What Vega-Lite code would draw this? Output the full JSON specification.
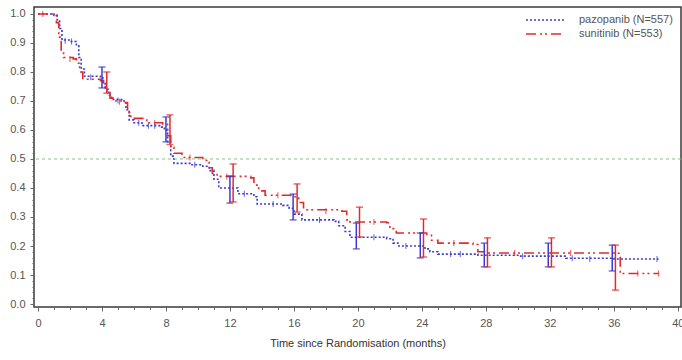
{
  "$schema": "https://vega.github.io/schema/vega-lite/v6.json",
  "width": 647,
  "height": 300,
  "autosize": "none",
  "padding": {"left": 34, "top": 7, "right": 1, "bottom": 53},
  "background": "white",
  "config": {
    "font": "Liberation Sans",
    "view": {"stroke": "#3a3a3a", "strokeWidth": 1.5},
    "axis": {"labelColor": "#555", "labelFontSize": 11, "titleColor": "#333", "titleFontSize": 11, "titleFontWeight": "normal", "tickColor": "#666", "domain": false, "grid": false, "tickSize": 4, "labelOverlap": false}
  },
  "datasets": {
    "curves": [
      {"series": "pazopanib (N=557)", "t": 0, "s": 1.0},
      {"series": "pazopanib (N=557)", "t": 1.0, "s": 0.995},
      {"series": "pazopanib (N=557)", "t": 1.2, "s": 0.98},
      {"series": "pazopanib (N=557)", "t": 1.35, "s": 0.95},
      {"series": "pazopanib (N=557)", "t": 1.5, "s": 0.91},
      {"series": "pazopanib (N=557)", "t": 2.0, "s": 0.905},
      {"series": "pazopanib (N=557)", "t": 2.4, "s": 0.89},
      {"series": "pazopanib (N=557)", "t": 2.55, "s": 0.85},
      {"series": "pazopanib (N=557)", "t": 2.7, "s": 0.81},
      {"series": "pazopanib (N=557)", "t": 2.9, "s": 0.785},
      {"series": "pazopanib (N=557)", "t": 3.9, "s": 0.78},
      {"series": "pazopanib (N=557)", "t": 4.05, "s": 0.76},
      {"series": "pazopanib (N=557)", "t": 4.2, "s": 0.74},
      {"series": "pazopanib (N=557)", "t": 4.4, "s": 0.72},
      {"series": "pazopanib (N=557)", "t": 4.6, "s": 0.705},
      {"series": "pazopanib (N=557)", "t": 5.3, "s": 0.70},
      {"series": "pazopanib (N=557)", "t": 5.5, "s": 0.67},
      {"series": "pazopanib (N=557)", "t": 5.7, "s": 0.635},
      {"series": "pazopanib (N=557)", "t": 6.0, "s": 0.625},
      {"series": "pazopanib (N=557)", "t": 6.5, "s": 0.615},
      {"series": "pazopanib (N=557)", "t": 7.6, "s": 0.61},
      {"series": "pazopanib (N=557)", "t": 7.9, "s": 0.60},
      {"series": "pazopanib (N=557)", "t": 8.1, "s": 0.56},
      {"series": "pazopanib (N=557)", "t": 8.3, "s": 0.51},
      {"series": "pazopanib (N=557)", "t": 8.5, "s": 0.485},
      {"series": "pazopanib (N=557)", "t": 9.5, "s": 0.48},
      {"series": "pazopanib (N=557)", "t": 10.3, "s": 0.475},
      {"series": "pazopanib (N=557)", "t": 10.7, "s": 0.46},
      {"series": "pazopanib (N=557)", "t": 11.0, "s": 0.43},
      {"series": "pazopanib (N=557)", "t": 11.3, "s": 0.40},
      {"series": "pazopanib (N=557)", "t": 12.5, "s": 0.38},
      {"series": "pazopanib (N=557)", "t": 13.5, "s": 0.37},
      {"series": "pazopanib (N=557)", "t": 13.7, "s": 0.345},
      {"series": "pazopanib (N=557)", "t": 15.3, "s": 0.34},
      {"series": "pazopanib (N=557)", "t": 15.7, "s": 0.33},
      {"series": "pazopanib (N=557)", "t": 16.0, "s": 0.31},
      {"series": "pazopanib (N=557)", "t": 16.5, "s": 0.29},
      {"series": "pazopanib (N=557)", "t": 18.5, "s": 0.285},
      {"series": "pazopanib (N=557)", "t": 18.8, "s": 0.27},
      {"series": "pazopanib (N=557)", "t": 19.2, "s": 0.25},
      {"series": "pazopanib (N=557)", "t": 19.5, "s": 0.23},
      {"series": "pazopanib (N=557)", "t": 21.8, "s": 0.225},
      {"series": "pazopanib (N=557)", "t": 22.2, "s": 0.21},
      {"series": "pazopanib (N=557)", "t": 22.5, "s": 0.20},
      {"series": "pazopanib (N=557)", "t": 24.2, "s": 0.19},
      {"series": "pazopanib (N=557)", "t": 24.5, "s": 0.18},
      {"series": "pazopanib (N=557)", "t": 25.0, "s": 0.172},
      {"series": "pazopanib (N=557)", "t": 27.5, "s": 0.168},
      {"series": "pazopanib (N=557)", "t": 30.0, "s": 0.165},
      {"series": "pazopanib (N=557)", "t": 33.0, "s": 0.158},
      {"series": "pazopanib (N=557)", "t": 36.0, "s": 0.155},
      {"series": "pazopanib (N=557)", "t": 38.8, "s": 0.155},
      {"series": "sunitinib (N=553)", "t": 0, "s": 1.0},
      {"series": "sunitinib (N=553)", "t": 1.0, "s": 0.995},
      {"series": "sunitinib (N=553)", "t": 1.15, "s": 0.97},
      {"series": "sunitinib (N=553)", "t": 1.3, "s": 0.92},
      {"series": "sunitinib (N=553)", "t": 1.45, "s": 0.87},
      {"series": "sunitinib (N=553)", "t": 1.6, "s": 0.85},
      {"series": "sunitinib (N=553)", "t": 2.2, "s": 0.845},
      {"series": "sunitinib (N=553)", "t": 2.4, "s": 0.83},
      {"series": "sunitinib (N=553)", "t": 2.6, "s": 0.80},
      {"series": "sunitinib (N=553)", "t": 2.8, "s": 0.775},
      {"series": "sunitinib (N=553)", "t": 3.9, "s": 0.77},
      {"series": "sunitinib (N=553)", "t": 4.1, "s": 0.75},
      {"series": "sunitinib (N=553)", "t": 4.3, "s": 0.73},
      {"series": "sunitinib (N=553)", "t": 4.5, "s": 0.71},
      {"series": "sunitinib (N=553)", "t": 4.7, "s": 0.70},
      {"series": "sunitinib (N=553)", "t": 5.4, "s": 0.695},
      {"series": "sunitinib (N=553)", "t": 5.6, "s": 0.66},
      {"series": "sunitinib (N=553)", "t": 5.8, "s": 0.64},
      {"series": "sunitinib (N=553)", "t": 6.8, "s": 0.625},
      {"series": "sunitinib (N=553)", "t": 7.8, "s": 0.62},
      {"series": "sunitinib (N=553)", "t": 8.1, "s": 0.58},
      {"series": "sunitinib (N=553)", "t": 8.3, "s": 0.54},
      {"series": "sunitinib (N=553)", "t": 8.5, "s": 0.52},
      {"series": "sunitinib (N=553)", "t": 9.0, "s": 0.505},
      {"series": "sunitinib (N=553)", "t": 10.3, "s": 0.495},
      {"series": "sunitinib (N=553)", "t": 10.7, "s": 0.47},
      {"series": "sunitinib (N=553)", "t": 10.9, "s": 0.45},
      {"series": "sunitinib (N=553)", "t": 11.2, "s": 0.44},
      {"series": "sunitinib (N=553)", "t": 13.3, "s": 0.435},
      {"series": "sunitinib (N=553)", "t": 13.5, "s": 0.41},
      {"series": "sunitinib (N=553)", "t": 13.8, "s": 0.39},
      {"series": "sunitinib (N=553)", "t": 14.2, "s": 0.375},
      {"series": "sunitinib (N=553)", "t": 15.8, "s": 0.37},
      {"series": "sunitinib (N=553)", "t": 16.3, "s": 0.35},
      {"series": "sunitinib (N=553)", "t": 16.6, "s": 0.325},
      {"series": "sunitinib (N=553)", "t": 19.0, "s": 0.32},
      {"series": "sunitinib (N=553)", "t": 19.3, "s": 0.29},
      {"series": "sunitinib (N=553)", "t": 19.5, "s": 0.283},
      {"series": "sunitinib (N=553)", "t": 21.8, "s": 0.28},
      {"series": "sunitinib (N=553)", "t": 22.0, "s": 0.26},
      {"series": "sunitinib (N=553)", "t": 22.4, "s": 0.245},
      {"series": "sunitinib (N=553)", "t": 24.3, "s": 0.24},
      {"series": "sunitinib (N=553)", "t": 24.6, "s": 0.22},
      {"series": "sunitinib (N=553)", "t": 25.0, "s": 0.21},
      {"series": "sunitinib (N=553)", "t": 27.2, "s": 0.205},
      {"series": "sunitinib (N=553)", "t": 27.5, "s": 0.18},
      {"series": "sunitinib (N=553)", "t": 28.0, "s": 0.176},
      {"series": "sunitinib (N=553)", "t": 36.2, "s": 0.175},
      {"series": "sunitinib (N=553)", "t": 36.4, "s": 0.105},
      {"series": "sunitinib (N=553)", "t": 38.8, "s": 0.105}
    ],
    "ci": [
      {"series": "pazopanib (N=557)", "t": 4.0, "lo": 0.745, "hi": 0.817},
      {"series": "pazopanib (N=557)", "t": 8.0, "lo": 0.559, "hi": 0.645},
      {"series": "pazopanib (N=557)", "t": 12.0, "lo": 0.348, "hi": 0.441},
      {"series": "pazopanib (N=557)", "t": 15.95, "lo": 0.29, "hi": 0.379},
      {"series": "pazopanib (N=557)", "t": 19.9, "lo": 0.19, "hi": 0.279},
      {"series": "pazopanib (N=557)", "t": 23.9, "lo": 0.159, "hi": 0.245},
      {"series": "pazopanib (N=557)", "t": 27.9, "lo": 0.128, "hi": 0.21},
      {"series": "pazopanib (N=557)", "t": 31.9, "lo": 0.128, "hi": 0.21},
      {"series": "pazopanib (N=557)", "t": 35.9, "lo": 0.114, "hi": 0.203},
      {"series": "sunitinib (N=553)", "t": 4.3, "lo": 0.727, "hi": 0.80},
      {"series": "sunitinib (N=553)", "t": 8.25, "lo": 0.55, "hi": 0.652},
      {"series": "sunitinib (N=553)", "t": 12.2, "lo": 0.352, "hi": 0.483},
      {"series": "sunitinib (N=553)", "t": 16.2, "lo": 0.317, "hi": 0.414},
      {"series": "sunitinib (N=553)", "t": 20.1, "lo": 0.231, "hi": 0.334},
      {"series": "sunitinib (N=553)", "t": 24.1, "lo": 0.162, "hi": 0.293},
      {"series": "sunitinib (N=553)", "t": 28.1, "lo": 0.128, "hi": 0.228},
      {"series": "sunitinib (N=553)", "t": 32.1, "lo": 0.128, "hi": 0.228},
      {"series": "sunitinib (N=553)", "t": 36.1, "lo": 0.048, "hi": 0.203}
    ],
    "cens": [
      {"series": "pazopanib (N=557)", "t": 1.7, "s": 0.908},
      {"series": "pazopanib (N=557)", "t": 2.1, "s": 0.905},
      {"series": "pazopanib (N=557)", "t": 3.3, "s": 0.782},
      {"series": "pazopanib (N=557)", "t": 5.0, "s": 0.702},
      {"series": "pazopanib (N=557)", "t": 6.3, "s": 0.625},
      {"series": "pazopanib (N=557)", "t": 6.9, "s": 0.615},
      {"series": "pazopanib (N=557)", "t": 7.3, "s": 0.615},
      {"series": "pazopanib (N=557)", "t": 9.8, "s": 0.48},
      {"series": "pazopanib (N=557)", "t": 12.9, "s": 0.38},
      {"series": "pazopanib (N=557)", "t": 14.7, "s": 0.345},
      {"series": "pazopanib (N=557)", "t": 17.6, "s": 0.29},
      {"series": "pazopanib (N=557)", "t": 21.0, "s": 0.23},
      {"series": "pazopanib (N=557)", "t": 23.0, "s": 0.20},
      {"series": "pazopanib (N=557)", "t": 25.8, "s": 0.172},
      {"series": "pazopanib (N=557)", "t": 26.4, "s": 0.172},
      {"series": "pazopanib (N=557)", "t": 30.3, "s": 0.165},
      {"series": "pazopanib (N=557)", "t": 33.4, "s": 0.158},
      {"series": "pazopanib (N=557)", "t": 34.5, "s": 0.155},
      {"series": "pazopanib (N=557)", "t": 38.7, "s": 0.155},
      {"series": "sunitinib (N=553)", "t": 0.3, "s": 1.0},
      {"series": "sunitinib (N=553)", "t": 2.0, "s": 0.845},
      {"series": "sunitinib (N=553)", "t": 5.1, "s": 0.697},
      {"series": "sunitinib (N=553)", "t": 7.3, "s": 0.625},
      {"series": "sunitinib (N=553)", "t": 9.5, "s": 0.505},
      {"series": "sunitinib (N=553)", "t": 11.8, "s": 0.44},
      {"series": "sunitinib (N=553)", "t": 15.0, "s": 0.375},
      {"series": "sunitinib (N=553)", "t": 18.0, "s": 0.32},
      {"series": "sunitinib (N=553)", "t": 21.0, "s": 0.283},
      {"series": "sunitinib (N=553)", "t": 26.0, "s": 0.21},
      {"series": "sunitinib (N=553)", "t": 29.8, "s": 0.176},
      {"series": "sunitinib (N=553)", "t": 33.3, "s": 0.176},
      {"series": "sunitinib (N=553)", "t": 37.5, "s": 0.105},
      {"series": "sunitinib (N=553)", "t": 38.8, "s": 0.105}
    ]
  },
  "layer": [
    {
      "data": {"name": "curves"},
      "mark": {"type": "line", "interpolate": "step-after", "strokeWidth": 1.6},
      "encoding": {
        "x": {"field": "t", "type": "quantitative", "scale": {"domain": [-0.25, 40.2], "nice": false, "zero": false},
              "axis": {"values": [0,1,2,3,4,5,6,7,8,9,10,11,12,13,14,15,16,17,18,19,20,21,22,23,24,25,26,27,28,29,30,31,32,33,34,35,36,37,38,39,40],
                       "tickCount": 41,
                       "labelExpr": "datum.value % 4 === 0 ? datum.label : ''",
                       "tickSize": {"expr": "datum.value % 4 === 0 ? 4 : 2.5"},
                       "title": "Time since Randomisation (months)", "labelPadding": 6, "titlePadding": 9, "labelOverlap": false}},
        "y": {"field": "s", "type": "quantitative", "scale": {"domain": [-0.0103, 1.024], "nice": false, "zero": false},
              "axis": {"values": [0,0.02,0.04,0.06,0.08,0.1,0.12,0.14,0.16,0.18,0.2,0.22,0.24,0.26,0.28,0.3,0.32,0.34,0.36,0.38,0.4,0.42,0.44,0.46,0.48,0.5,0.52,0.54,0.56,0.58,0.6,0.62,0.64,0.66,0.68,0.7,0.72,0.74,0.76,0.78,0.8,0.82,0.84,0.86,0.88,0.9,0.92,0.94,0.96,0.98,1.0],
                       "tickCount": 51,
                       "labelExpr": "abs(datum.value * 10 - round(datum.value * 10)) < 0.001 ? format(datum.value, '.1f') : ''",
                       "tickSize": {"expr": "abs(datum.value * 10 - round(datum.value * 10)) < 0.001 ? 4 : 2"},
                       "title": null, "labelPadding": 5, "labelOverlap": false, "labelSeparation": 0}},
        "color": {"field": "series", "type": "nominal",
                  "scale": {"domain": ["pazopanib (N=557)", "sunitinib (N=553)"], "range": ["#3b3bd0", "#e32a2a"]},
                  "legend": {"title": null, "orient": "none", "legendX": 505, "legendY": 7, "symbolType": "M-3.8,0H3.8", "symbolSize": 100, "symbolStrokeWidth": 1.6, "labelFontSize": 11, "labelColor": "#555", "rowPadding": 3, "labelOffset": 28}},
        "strokeDash": {"field": "series", "type": "nominal",
                  "scale": {"domain": ["pazopanib (N=557)", "sunitinib (N=553)"], "range": [[2, 2], [10, 4, 2, 3, 2, 4]]},
                  "legend": {"title": null, "orient": "none", "legendX": 505, "legendY": 7, "symbolType": "M-3.8,0H3.8", "symbolSize": 100, "symbolStrokeWidth": 1.6, "labelFontSize": 11, "labelColor": "#555", "rowPadding": 3, "labelOffset": 28}}
      }
    },
    {
      "data": {"values": [{"ref": 0.5}]},
      "mark": {"type": "rule", "color": "#8cbf8c", "strokeDash": [3, 3], "strokeWidth": 1},
      "encoding": {
        "y": {"field": "ref", "type": "quantitative"}
      }
    },
    {
      "data": {"name": "ci"},
      "mark": {"type": "rule", "strokeWidth": 1.5},
      "encoding": {
        "x": {"field": "t", "type": "quantitative"},
        "y": {"field": "lo", "type": "quantitative"},
        "y2": {"field": "hi"},
        "color": {"field": "series", "type": "nominal", "legend": null}
      }
    },
    {
      "data": {"name": "ci"},
      "mark": {"type": "tick", "orient": "horizontal", "size": 7, "thickness": 1.5},
      "encoding": {
        "x": {"field": "t", "type": "quantitative"},
        "y": {"field": "lo", "type": "quantitative"},
        "color": {"field": "series", "type": "nominal", "legend": null}
      }
    },
    {
      "data": {"name": "ci"},
      "mark": {"type": "tick", "orient": "horizontal", "size": 7, "thickness": 1.5},
      "encoding": {
        "x": {"field": "t", "type": "quantitative"},
        "y": {"field": "hi", "type": "quantitative"},
        "color": {"field": "series", "type": "nominal", "legend": null}
      }
    },
    {
      "data": {"name": "cens"},
      "mark": {"type": "tick", "orient": "vertical", "size": 6, "thickness": 1, "opacity": 0.8},
      "encoding": {
        "x": {"field": "t", "type": "quantitative"},
        "y": {"field": "s", "type": "quantitative"},
        "color": {"field": "series", "type": "nominal", "legend": null}
      }
    }
  ]
}
